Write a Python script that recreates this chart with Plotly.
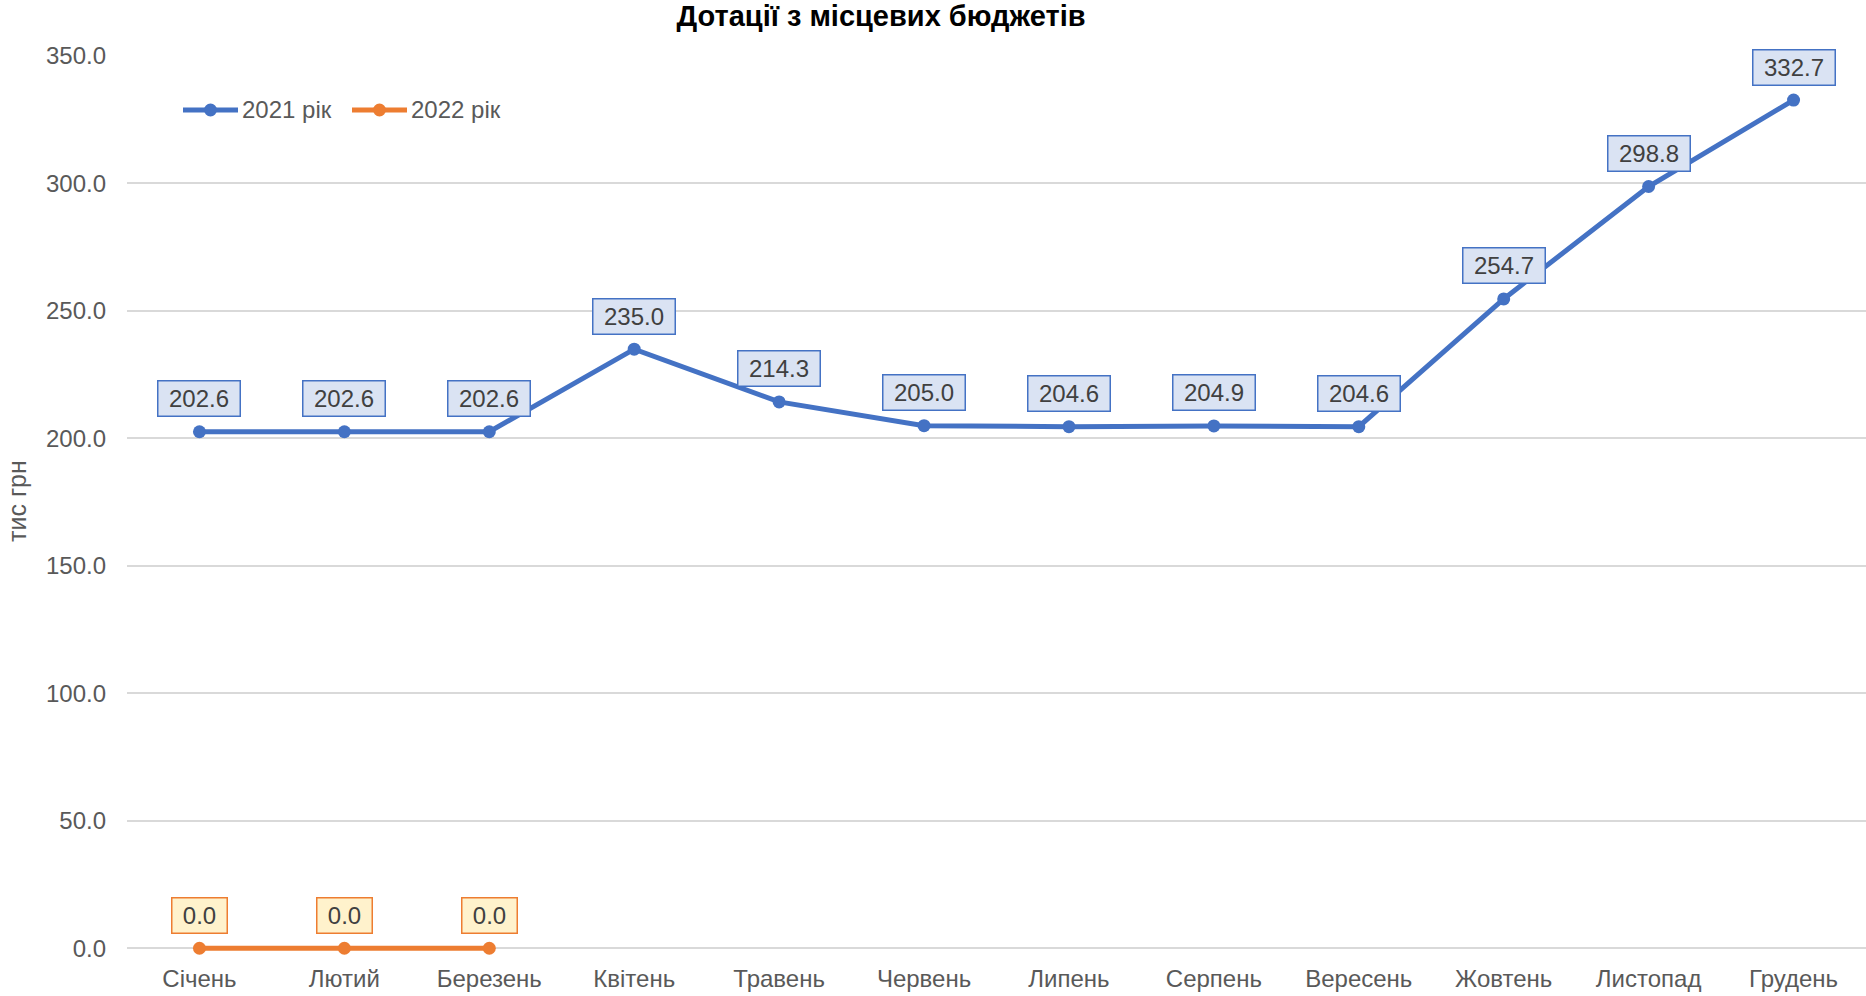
import plotly.graph_objects as go

months = ["Січень", "Лютий", "Березень", "Квітень", "Травень", "Червень",
          "Липень", "Серпень", "Вересень", "Жовтень", "Листопад", "Грудень"]
values_2021 = [202.6, 202.6, 202.6, 235.0, 214.3, 205.0, 204.6, 204.9, 204.6, 254.7, 298.8, 332.7]
months_2022 = ["Січень", "Лютий", "Березень"]
values_2022 = [0.0, 0.0, 0.0]
y_ticks = [0, 50, 100, 150, 200, 250, 300, 350]
series_names = ["2021 рік", "2022 рік"]

BLUE = "#4472C4"
ORANGE = "#ED7D31"
FONT = "Liberation Sans, Arial, sans-serif"

W, H = 1866, 996
Y_MIN, Y_MAX = -5, 350
PX_PER_UNIT = 892.5 / 350
ML, MR, MT = 127, 0, 56
MB = 47.5 - (0 - Y_MIN) * PX_PER_UNIT  # extend plot slightly below zero so the 0-line isn't clipped
PW, PH = W - ML - MR, H - MT - MB


def px_x(x):
    return (x - ML) / PW


def px_y(y):
    return (H - MB - y) / PH


fig = go.Figure()
fig.add_trace(go.Scatter(
    x=months, y=values_2021, mode="lines+markers", name=series_names[0],
    line=dict(color=BLUE, width=5), marker=dict(size=13, color=BLUE),
    cliponaxis=False, showlegend=False,
))
fig.add_trace(go.Scatter(
    x=months_2022, y=values_2022, mode="lines+markers", name=series_names[1],
    line=dict(color=ORANGE, width=5), marker=dict(size=13, color=ORANGE),
    cliponaxis=False, showlegend=False,
))

annotations = []
for m, v in zip(months, values_2021):
    annotations.append(dict(
        x=m, y=v, xref="x", yref="y", text=f"{v:.1f}", showarrow=False,
        yshift=33, bgcolor="#DAE3F3", bordercolor=BLUE, borderwidth=1.5,
        borderpad=3, width=75, height=28,
        font=dict(family=FONT, size=24, color="#404040"),
    ))
for m, v in zip(months_2022, values_2022):
    annotations.append(dict(
        x=m, y=v, xref="x", yref="y", text=f"{v:.1f}", showarrow=False,
        yshift=33, bgcolor="#FFF2CC", bordercolor=ORANGE, borderwidth=1.5,
        borderpad=3, width=48, height=28,
        font=dict(family=FONT, size=24, color="#404040"),
    ))

# custom legend (longer line symbols like the original)
shapes = []
legend_y = 110
for (x0, color, name) in [(183, BLUE, series_names[0]), (352, ORANGE, series_names[1])]:
    shapes.append(dict(type="line", xref="paper", yref="paper",
                       x0=px_x(x0), x1=px_x(x0 + 55), y0=px_y(legend_y), y1=px_y(legend_y),
                       line=dict(color=color, width=5)))
    shapes.append(dict(type="circle", xref="paper", yref="paper",
                       x0=px_x(x0 + 27.5 - 6.5), x1=px_x(x0 + 27.5 + 6.5),
                       y0=px_y(legend_y - 6.5), y1=px_y(legend_y + 6.5),
                       fillcolor=color, line=dict(color=color, width=0)))
    annotations.append(dict(x=px_x(x0 + 57), y=px_y(legend_y), xref="paper", yref="paper",
                            xanchor="left", yanchor="middle", text=name, showarrow=False,
                            font=dict(family=FONT, size=24, color="#595959")))

# y-axis title
annotations.append(dict(x=px_x(17), y=px_y(501), xref="paper", yref="paper",
                        xanchor="center", yanchor="middle", text="тис грн", textangle=-90,
                        showarrow=False, font=dict(family=FONT, size=25, color="#595959")))

fig.update_layout(
    width=W, height=H,
    margin=dict(l=ML, r=MR, t=MT, b=MB),
    paper_bgcolor="white", plot_bgcolor="white",
    font=dict(family=FONT, size=24, color="#595959"),
    title=dict(text="<b>Дотації з місцевих бюджетів</b>", x=881 / W, xanchor="center",
               y=1 - 16 / H, yanchor="middle",
               font=dict(family=FONT, size=29, color="#000000")),
    showlegend=False,
    annotations=annotations,
    shapes=shapes,
)
fig.update_xaxes(
    type="category", categoryorder="array", categoryarray=months,
    range=[-0.5, 11.5], showgrid=False, showline=False, zeroline=False,
    ticks="", ticklabelstandoff=1,
    tickfont=dict(family=FONT, size=24, color="#595959"),
)
fig.update_yaxes(
    range=[Y_MIN, Y_MAX], tickvals=y_ticks, tickformat=".1f",
    showgrid=True, gridcolor="#D9D9D9", gridwidth=1.5,
    zeroline=True, zerolinecolor="#D9D9D9", zerolinewidth=1.5,
    showline=False, ticks="", ticklabelstandoff=20,
    tickfont=dict(family=FONT, size=24, color="#595959"),
)

fig.write_html(
    "out.html",
    config={"displayModeBar": False},
    post_script="document.body.style.margin='0';document.body.style.overflow='hidden';",
)
